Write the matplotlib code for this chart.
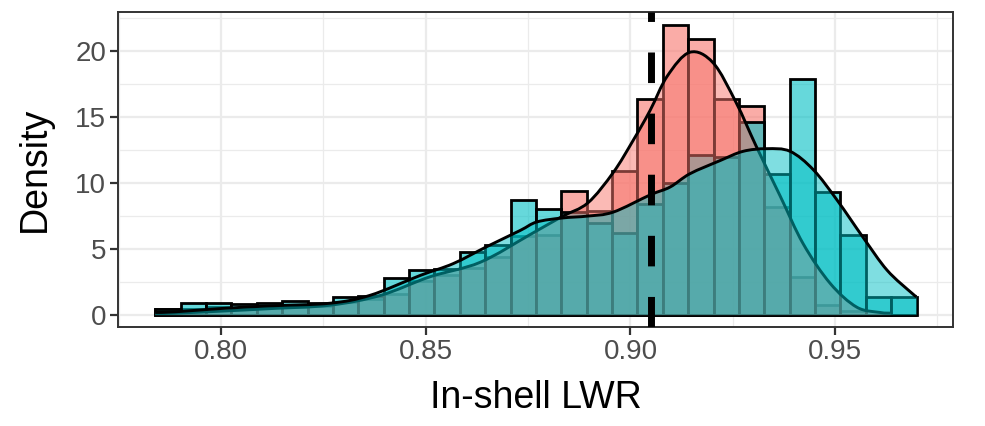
import numpy as np
import matplotlib
matplotlib.use("Agg")
import matplotlib.pyplot as plt
from matplotlib.path import Path
from matplotlib.patches import PathPatch
from matplotlib.colors import to_rgba

# 30 equal bins over the data range
bin_edges = np.linspace(0.7839, 0.9699, 31)

red_hist = [0.5, 0.5, 0.6, 0.5, 0.6, 0.6, 0.7, 1.0, 1.2, 1.6,
            2.6, 3.0, 3.6, 4.4, 6.0, 6.1, 9.4, 7.9, 10.9, 16.4,
            22.0, 20.9, 16.4, 15.8, 8.2, 2.9, 0.8, 0.3, 0.0, 0.0]
teal_hist = [0.5, 0.9, 0.9, 0.85, 0.9, 1.1, 0.9, 1.4, 1.45, 2.8,
             3.4, 3.5, 4.8, 5.3, 8.7, 8.0, 7.8, 7.0, 6.2, 8.4,
             10.0, 12.1, 12.0, 14.6, 10.7, 17.9, 9.3, 6.1, 1.4, 1.4]

red_dens_x = [0.7839, 0.789, 0.800, 0.8125, 0.8266, 0.839, 0.851, 0.8633,
              0.8755, 0.8832, 0.8896, 0.8958, 0.9006, 0.9048, 0.909, 0.9145,
              0.9202, 0.9258, 0.9307, 0.9366, 0.9422, 0.9488, 0.9553, 0.961,
              0.9635]
red_dens_y = [0.1, 0.15, 0.3, 0.5, 0.75, 1.5, 2.9, 4.0,
              6.1, 7.45, 8.5, 10.8, 13.2, 15.5, 18.1, 19.9,
              19.1, 16.1, 12.8, 9.0, 5.4, 2.4, 0.6, 0.2,
              0.15]

teal_dens_x = [0.7839, 0.7888, 0.800, 0.812, 0.8266, 0.8364, 0.8486, 0.8567,
               0.865, 0.8730, 0.8771, 0.8832, 0.8896, 0.8958, 0.9048, 0.9097,
               0.9145, 0.9219, 0.9275, 0.9333, 0.939, 0.9447, 0.9505, 0.9568,
               0.9627, 0.9688, 0.9699]
teal_dens_y = [0.2, 0.25, 0.5, 0.7, 0.9, 1.5, 3.0, 3.9,
               5.2, 6.4, 7.05, 7.35, 7.5, 7.8, 9.1, 9.7,
               10.7, 11.7, 12.4, 12.6, 12.4, 11.0, 8.7, 5.9,
               3.4, 1.65, 1.4]

cutoff = 0.905

RED = "#F8766D"
TEAL = "#00BFC4"
FONT = ["Liberation Sans", "DejaVu Sans"]


def smooth_verts(xs, ys):
    # Catmull-Rom through the read points, as cubic bezier segments
    p = np.column_stack([xs, ys])
    n = len(p)
    verts = [p[0]]
    codes = [Path.MOVETO]
    for i in range(n - 1):
        p0 = p[max(i - 1, 0)]
        p1 = p[i]
        p2 = p[i + 1]
        p3 = p[min(i + 2, n - 1)]
        c1 = p1 + (p2 - p0) / 6.0
        c2 = p2 - (p3 - p1) / 6.0
        verts += [c1, c2, p2]
        codes += [Path.CURVE4] * 3
    return verts, codes


def draw_density(ax, xs, ys, color):
    verts, codes = smooth_verts(xs, ys)
    fill_verts = verts + [(xs[-1], 0), (xs[0], 0), (xs[0], ys[0])]
    fill_codes = codes + [Path.LINETO, Path.LINETO, Path.CLOSEPOLY]
    ax.add_patch(PathPatch(Path(fill_verts, fill_codes),
                           facecolor=to_rgba(color, 0.5), edgecolor="none", zorder=3))
    ax.add_patch(PathPatch(Path(verts, codes), facecolor="none",
                           edgecolor="black", lw=2.1, zorder=3))


fig = plt.figure(figsize=(9.85, 4.26), dpi=100)
ax = fig.add_axes([118 / 985, 1 - 327 / 426, (953 - 118) / 985, (327 - 12) / 426])

widths = np.diff(bin_edges)
ax.bar(bin_edges[:-1], red_hist, width=widths, align="edge",
       color=to_rgba(RED, 0.6), edgecolor="black", linewidth=2.0, zorder=2)
ax.bar(bin_edges[:-1], teal_hist, width=widths, align="edge",
       color=to_rgba(TEAL, 0.6), edgecolor="black", linewidth=2.0, zorder=2)

draw_density(ax, red_dens_x, red_dens_y, RED)
draw_density(ax, teal_dens_x, teal_dens_y, TEAL)

ax.axvline(cutoff, color="black", lw=5, linestyle=(0, (4.4, 4.4)), zorder=4)

ax.set_xlim(0.7748, 0.9788)
ax.set_ylim(-0.9, 22.95)
ax.set_xticks([0.80, 0.85, 0.90, 0.95])
ax.set_xticklabels(["0.80", "0.85", "0.90", "0.95"])
ax.set_xticks([0.775, 0.825, 0.875, 0.925, 0.975], minor=True)
ax.set_yticks([0, 5, 10, 15, 20])
ax.set_yticks([2.5, 7.5, 12.5, 17.5, 22.5], minor=True)

ax.grid(which="major", color="#EBEBEB", lw=1.6, zorder=0)
ax.grid(which="minor", color="#EBEBEB", lw=0.9, zorder=0)
ax.set_axisbelow(True)

for s in ax.spines.values():
    s.set_color("#333333")
    s.set_linewidth(1.4)

ax.tick_params(which="major", length=5.5, width=1.6, color="#333333",
               labelcolor="#4D4D4D", labelsize=20, pad=3)
ax.tick_params(which="minor", length=0)
for lab in ax.get_xticklabels() + ax.get_yticklabels():
    lab.set_family(FONT)

ax.set_xlabel("In-shell LWR", fontsize=27, family=FONT, labelpad=11)
ax.set_ylabel("Density", fontsize=27, family=FONT, labelpad=16)

fig.savefig("out.png", dpi=100)
